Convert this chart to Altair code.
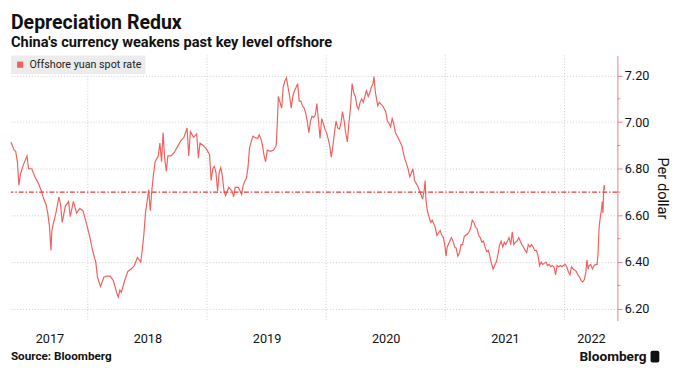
import altair as alt
import pandas as pd

title_text = "Depreciation Redux"
subtitle_text = "China's currency weakens past key level offshore"
series_name = "Offshore yuan spot rate"
source_text = "Source: Bloomberg"
brand_text = "Bloomberg"
y_title = "Per dollar"

# time as decimal years, offshore yuan per dollar
t_2017 = [2017.355, 2017.382, 2017.395, 2017.409, 2017.422, 2017.436, 2017.462, 2017.490, 2017.503, 2017.530,
          2017.557, 2017.583, 2017.611, 2017.624, 2017.651, 2017.664, 2017.678, 2017.691, 2017.698, 2017.704,
          2017.732, 2017.758, 2017.772, 2017.785, 2017.812, 2017.839, 2017.853, 2017.879, 2017.906, 2017.933,
          2017.960, 2017.986]
r_2017 = [6.915, 6.88, 6.875, 6.83, 6.73, 6.78, 6.82, 6.855, 6.80, 6.80,
          6.765, 6.74, 6.705, 6.68, 6.645, 6.61, 6.555, 6.45, 6.53, 6.55,
          6.61, 6.68, 6.645, 6.57, 6.64, 6.66, 6.595, 6.66, 6.61, 6.63,
          6.62, 6.57]

t_2018 = [2018.014, 2018.040, 2018.067, 2018.081, 2018.107, 2018.135, 2018.161, 2018.188, 2018.215, 2018.242,
          2018.256, 2018.269, 2018.282, 2018.309, 2018.336, 2018.363, 2018.390, 2018.417, 2018.444, 2018.457,
          2018.470, 2018.484, 2018.498, 2018.511, 2018.524, 2018.538, 2018.551, 2018.565, 2018.591, 2018.605,
          2018.619, 2018.632, 2018.645, 2018.659, 2018.672, 2018.699, 2018.726, 2018.753, 2018.780, 2018.807,
          2018.833, 2018.847, 2018.861, 2018.887, 2018.914, 2018.928, 2018.941, 2018.968, 2018.995]
r_2018 = [6.515, 6.45, 6.40, 6.335, 6.295, 6.335, 6.34, 6.34, 6.32, 6.27,
          6.25, 6.28, 6.27, 6.32, 6.36, 6.37, 6.385, 6.42, 6.40, 6.45,
          6.515, 6.61, 6.66, 6.71, 6.62, 6.71, 6.775, 6.83, 6.855, 6.91,
          6.83, 6.955, 6.845, 6.79, 6.855, 6.855, 6.87, 6.895, 6.92, 6.935,
          6.975, 6.855, 6.96, 6.935, 6.95, 6.845, 6.91, 6.90, 6.885]

t_2019 = [2019.022, 2019.035, 2019.049, 2019.062, 2019.075, 2019.089, 2019.103, 2019.116, 2019.129, 2019.143,
          2019.156, 2019.183, 2019.210, 2019.224, 2019.237, 2019.264, 2019.291, 2019.304, 2019.317, 2019.331,
          2019.345, 2019.357, 2019.371, 2019.385, 2019.398, 2019.425, 2019.438, 2019.452, 2019.466, 2019.478,
          2019.492, 2019.506, 2019.532, 2019.559, 2019.581, 2019.591, 2019.599, 2019.613, 2019.627, 2019.640,
          2019.653, 2019.667, 2019.680, 2019.694, 2019.707, 2019.720, 2019.734, 2019.748, 2019.761, 2019.774,
          2019.788, 2019.801, 2019.815, 2019.828, 2019.841, 2019.855, 2019.869, 2019.882, 2019.895, 2019.909,
          2019.922, 2019.936, 2019.949, 2019.962, 2019.976, 2019.990]
r_2019 = [6.86, 6.75, 6.80, 6.81, 6.785, 6.705, 6.785, 6.805, 6.77, 6.705,
          6.685, 6.72, 6.705, 6.68, 6.72, 6.72, 6.69, 6.73, 6.745, 6.76,
          6.81, 6.89, 6.915, 6.94, 6.935, 6.93, 6.945, 6.93, 6.90, 6.86,
          6.83, 6.88, 6.875, 6.88, 6.90, 7.005, 7.11, 7.085, 7.06, 7.15,
          7.175, 7.19, 7.15, 7.11, 7.06, 7.11, 7.135, 7.15, 7.165, 7.09,
          7.09, 7.07, 7.06, 7.04, 7.005, 6.955, 7.005, 7.025, 7.02, 7.03,
          7.08, 7.005, 6.93, 7.015, 6.995, 6.97]

t_2020 = [2020.003, 2020.016, 2020.030, 2020.043, 2020.057, 2020.070, 2020.083, 2020.097, 2020.111, 2020.124,
          2020.137, 2020.151, 2020.164, 2020.178, 2020.191, 2020.204, 2020.218, 2020.232, 2020.245, 2020.258,
          2020.272, 2020.285, 2020.299, 2020.312, 2020.325, 2020.339, 2020.353, 2020.366, 2020.379, 2020.393,
          2020.401, 2020.414, 2020.433, 2020.446, 2020.474, 2020.500, 2020.514, 2020.527, 2020.541, 2020.554,
          2020.567, 2020.581, 2020.607, 2020.635, 2020.656, 2020.688, 2020.702, 2020.728, 2020.742, 2020.769,
          2020.796, 2020.809, 2020.823, 2020.831, 2020.837, 2020.849, 2020.863, 2020.877, 2020.890, 2020.903,
          2020.917, 2020.930, 2020.957, 2020.970, 2020.984, 2020.998]
r_2020 = [6.955, 6.93, 6.90, 6.85, 6.90, 6.955, 7.005, 6.975, 6.97, 6.995,
          7.045, 7.005, 6.955, 6.915, 6.995, 7.06, 7.165, 7.125, 7.11, 7.07,
          7.055, 7.085, 7.10, 7.085, 7.11, 7.135, 7.11, 7.125, 7.15, 7.165,
          7.195, 7.125, 7.07, 7.085, 7.07, 7.045, 7.005, 6.995, 6.98, 7.015,
          6.995, 6.955, 6.93, 6.90, 6.85, 6.80, 6.765, 6.80, 6.75, 6.725,
          6.69, 6.67, 6.71, 6.75, 6.67, 6.62, 6.595, 6.57, 6.58, 6.565,
          6.545, 6.515, 6.535, 6.515, 6.505, 6.465]

t_2021 = [2021.006, 2021.016, 2021.038, 2021.051, 2021.065, 2021.078, 2021.091, 2021.105, 2021.119, 2021.132,
          2021.145, 2021.159, 2021.172, 2021.186, 2021.199, 2021.212, 2021.226, 2021.240, 2021.253, 2021.266,
          2021.280, 2021.293, 2021.307, 2021.320, 2021.333, 2021.347, 2021.361, 2021.374, 2021.387, 2021.401,
          2021.414, 2021.428, 2021.441, 2021.454, 2021.468, 2021.482, 2021.495, 2021.508, 2021.522, 2021.535,
          2021.549, 2021.562, 2021.575, 2021.589, 2021.603, 2021.616, 2021.629, 2021.643, 2021.656, 2021.670,
          2021.683, 2021.696, 2021.710, 2021.724, 2021.737, 2021.750, 2021.764, 2021.777, 2021.791, 2021.804,
          2021.817, 2021.845, 2021.857, 2021.871, 2021.885, 2021.898, 2021.912, 2021.925, 2021.938, 2021.952,
          2021.966, 2021.978, 2021.992]
r_2021 = [6.425, 6.465, 6.49, 6.505, 6.49, 6.465, 6.46, 6.425, 6.44, 6.475,
          6.475, 6.51, 6.515, 6.52, 6.53, 6.545, 6.58, 6.57, 6.55, 6.545,
          6.515, 6.505, 6.485, 6.49, 6.465, 6.445, 6.45, 6.425, 6.395, 6.37,
          6.385, 6.40, 6.43, 6.47, 6.49, 6.465, 6.485, 6.475, 6.49, 6.505,
          6.475, 6.53, 6.475, 6.485, 6.49, 6.505, 6.49, 6.475, 6.465, 6.45,
          6.44, 6.475, 6.465, 6.475, 6.465, 6.45, 6.45, 6.43, 6.385, 6.40,
          6.39, 6.40, 6.385, 6.39, 6.38, 6.385, 6.38, 6.345, 6.385, 6.38,
          6.385, 6.38, 6.385]

t_2022 = [2022.006, 2022.019, 2022.032, 2022.046, 2022.059, 2022.073, 2022.087, 2022.099, 2022.113, 2022.127,
          2022.140, 2022.153, 2022.167, 2022.180, 2022.188, 2022.199, 2022.207, 2022.220, 2022.234, 2022.248,
          2022.261, 2022.274, 2022.282, 2022.290, 2022.301, 2022.309, 2022.317, 2022.323, 2022.328, 2022.333,
          2022.337]
r_2022 = [6.39, 6.38, 6.36, 6.345, 6.38, 6.37, 6.365, 6.36, 6.345, 6.335,
          6.32, 6.315, 6.325, 6.36, 6.41, 6.37, 6.385, 6.39, 6.37, 6.385,
          6.39, 6.39, 6.44, 6.545, 6.595, 6.62, 6.66, 6.61, 6.70, 6.73,
          6.71]

key_level = [6.70]
y_major = [6.20, 6.40, 6.60, 6.80, 7.00, 7.20]
y_minor = [6.30, 6.50, 6.70, 6.90, 7.10]
year_starts = [2018, 2019, 2020, 2021, 2022]
year_label_pos = [2017.678, 2018.5, 2019.5, 2020.5, 2021.5, 2022.222]
x_domain = [2017.355, 2022.444]
y_domain = [6.149, 7.286]

W, H = 622, 272
LINE = "#f0605c"
AXIS_RED = "#e8808a"
GRID = "#cccccc"
FONT = "Roboto"

t_all = t_2017 + t_2018 + t_2019 + t_2020 + t_2021 + t_2022
r_all = r_2017 + r_2018 + r_2019 + r_2020 + r_2021 + r_2022
df = pd.DataFrame({"t": t_all, "rate": r_all, "series": series_name})

xs = alt.Scale(domain=x_domain, nice=False, zero=False)
ys = alt.Scale(domain=y_domain, nice=False, zero=False)

x_axis = alt.Axis(
    values=year_label_pos, labelExpr="floor(datum.value)", grid=False, ticks=False,
    domain=False, labelFontSize=13, labelColor="#111", labelFont=FONT,
    labelPadding=12, title=None)
y_axis = alt.Axis(
    orient="right", values=y_major, format=".2f",
    grid=True, gridColor=GRID, gridDash=[1, 2],
    domainColor=AXIS_RED, tickColor=AXIS_RED, tickSize=5, labelPadding=2,
    labelFontSize=13, labelColor="#111", labelFont=FONT,
    title=y_title, titleAngle=90, titleFontSize=15, titleFontWeight="normal",
    titleFont=FONT, titleColor="#111", titlePadding=6)

line = alt.Chart(df).mark_line(strokeWidth=1.2, interpolate="linear").encode(
    x=alt.X("t:Q", scale=xs, axis=x_axis),
    y=alt.Y("rate:Q", scale=ys, axis=y_axis),
    color=alt.Color("series:N", scale=alt.Scale(range=[LINE]), legend=alt.Legend(
        title=None, orient="top-left", offset=0, fillColor="#ececec", padding=4,
        symbolType="square", symbolSize=40, symbolFillColor=LINE, symbolStrokeWidth=0,
        labelFontSize=11, labelColor="#222", labelFont=FONT)),
)

vgrid = alt.Chart(pd.DataFrame({"yr": year_starts})).mark_rule(
    color=GRID, strokeDash=[1, 2], strokeWidth=1
).encode(x=alt.X("yr:Q", scale=xs, axis=x_axis))

key = alt.Chart(pd.DataFrame({"k": key_level})).mark_rule(
    color="#e23b3b", strokeWidth=1.5, strokeDash=[5, 2, 1.5, 2]
).encode(y=alt.Y("k:Q", scale=ys, axis=y_axis))

minor = alt.Chart(pd.DataFrame({"m": y_minor})).mark_rule(
    color=AXIS_RED, strokeWidth=1
).encode(y=alt.Y("m:Q", scale=ys, axis=y_axis), x=alt.value(W), x2=alt.value(W + 3))

src = alt.Chart(pd.DataFrame({"s": [source_text]})).mark_text(
    align="left", baseline="middle", fontSize=12, fontWeight="bold", font=FONT, color="#111"
).encode(text="s:N", x=alt.value(0), y=alt.value(H + 36))

brand = alt.Chart(pd.DataFrame({"s": [brand_text]})).mark_text(
    align="right", baseline="middle", fontSize=14, fontWeight="bold", font=FONT, color="#111"
).encode(text="s:N", x=alt.value(W + 30), y=alt.value(H + 37))

icon = alt.Chart(pd.DataFrame({"s": [brand_text]})).mark_rect(
    color="#111", cornerRadius=2
).encode(x=alt.value(W + 34), x2=alt.value(W + 43), y=alt.value(H + 31), y2=alt.value(H + 43))

chart = alt.layer(vgrid, line, key, minor, src, brand, icon).properties(
    width=W, height=H,
    padding={"left": 0, "top": 0, "right": 2, "bottom": 2},
    title=alt.TitleParams(
        text=title_text, subtitle=subtitle_text, anchor="start", frame="group",
        fontSize=20, fontWeight="bold", font=FONT, color="#111",
        subtitleFontSize=15, subtitleFontWeight="bold", subtitleFont=FONT,
        subtitleColor="#111", subtitlePadding=3, offset=5),
).configure_view(stroke=None)

chart.save("out.html", embed_options={"renderer": "svg", "actions": False})
